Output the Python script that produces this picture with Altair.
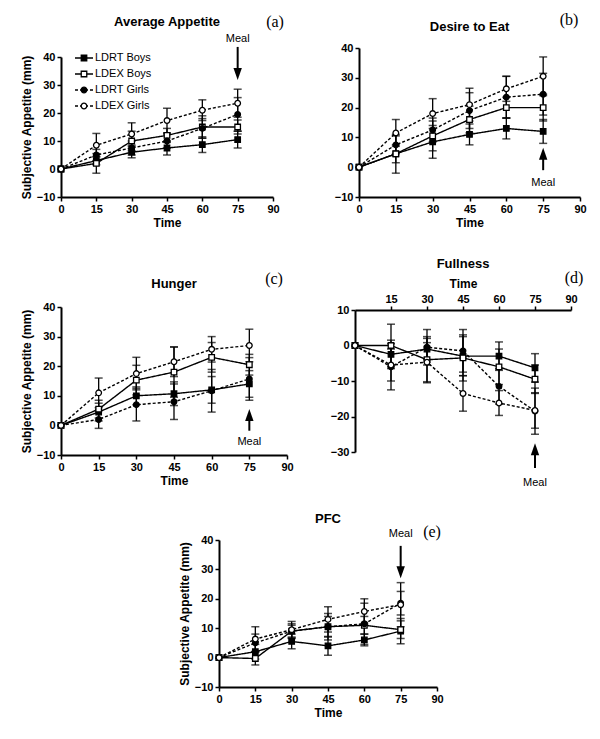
import altair as alt
import pandas as pd

SERIES = ["LDRT Boys", "LDEX Boys", "LDRT Girls", "LDEX Girls"]
TIMES = [0, 15, 30, 45, 60, 75]
X_TICKS = [0, 15, 30, 45, 60, 75, 90]

# (a) Average Appetite
avg_mean = {
    "LDRT Boys": [0, 3, 6, 7.5, 8.7, 10.5],
    "LDEX Boys": [0, 2, 10, 12, 15, 15],
    "LDRT Girls": [0, 5, 7.5, 10, 14.5, 19.5],
    "LDEX Girls": [0, 8.5, 12.5, 17.3, 21, 23.5],
}
avg_err = {
    "LDRT Boys": [0, 1.5, 2, 2.5, 2.8, 3],
    "LDEX Boys": [0, 3.5, 3.5, 2.5, 4, 2.5],
    "LDRT Girls": [0, 2, 2.5, 2.5, 3.5, 6],
    "LDEX Girls": [0, 4.2, 4, 4.4, 3.7, 5],
}
# (b) Desire to Eat
desire_mean = {
    "LDRT Boys": [0, 4.5, 8.5, 11, 13, 12],
    "LDEX Boys": [0, 4.5, 10.5, 16, 20, 20],
    "LDRT Girls": [0, 7.5, 12.5, 19, 23.5, 24.5],
    "LDEX Girls": [0, 11.5, 18, 21, 26.3, 30.5],
}
desire_err = {
    "LDRT Boys": [0, 3, 5.5, 3.5, 3.5, 4],
    "LDEX Boys": [0, 6.5, 5, 4.5, 3.5, 4.5],
    "LDRT Girls": [0, 3, 4, 6, 7, 7],
    "LDEX Girls": [0, 4.5, 5, 5.5, 4.2, 6.5],
}
# (c) Hunger
hunger_mean = {
    "LDRT Boys": [0, 4.5, 10, 10.7, 12, 14],
    "LDEX Boys": [0, 5.5, 15.3, 18, 23, 20.5],
    "LDRT Girls": [0, 2, 7, 8, 11.7, 15.7],
    "LDEX Girls": [0, 11, 17.5, 21.5, 25.7, 27],
}
hunger_err = {
    "LDRT Boys": [0, 3, 3, 4, 4.5, 4.5],
    "LDEX Boys": [0, 3, 5, 8.5, 5, 3.5],
    "LDRT Girls": [0, 3, 5.5, 6, 7.2, 7.2],
    "LDEX Girls": [0, 5, 5.5, 5, 4.3, 5.5],
}
# (d) Fullness
full_mean = {
    "LDRT Boys": [0, -2.5, -1, -3, -3, -6.3],
    "LDEX Boys": [0, 0, -4, -3.5, -6, -9.5],
    "LDRT Girls": [0, -6, -0.5, -1.5, -11.5, -18.5],
    "LDEX Girls": [0, -5.5, -4.7, -13.5, -16.2, -18.3],
}
full_err = {
    "LDRT Boys": [0, 4, 3, 5.5, 4, 4],
    "LDEX Boys": [0, 6, 6.5, 6.5, 5, 4],
    "LDRT Girls": [0, 6.5, 5, 6, 5, 6.5],
    "LDEX Girls": [0, 4.5, 5.5, 5, 3.5, 5],
}
# (e) PFC
pfc_mean = {
    "LDRT Boys": [0, 2, 5.5, 4, 6, 9],
    "LDEX Boys": [0, -0.3, 9, 10.5, 11, 9.5],
    "LDRT Girls": [0, 5, 9, 10.5, 11.5, 18.5],
    "LDEX Girls": [0, 6.3, 9.5, 13, 15.7, 18],
}
pfc_err = {
    "LDRT Boys": [0, 2.5, 2.5, 3.2, 2, 4.3],
    "LDEX Boys": [0, 2.2, 2, 3.5, 3, 3],
    "LDRT Girls": [0, 3, 2.5, 4.5, 7, 4],
    "LDEX Girls": [0, 4.2, 2.8, 4.3, 4.3, 7.5],
}

FONT = "Liberation Sans"
SERIF = "Liberation Serif"
DASH = [[1, 0], [1, 0], [3, 2], [3, 2]]
SHAPES = ["square", "square", "circle", "circle"]
FILLS = ["black", "white", "black", "white"]
SIZES = [30, 32, 20, 34]
ARROW_DOWN = "M-0.7,-1L0.7,-1L0,1Z"
ARROW_UP = "M-0.7,1L0.7,1L0,-1Z"


def frame(means, errs):
    rows = []
    for s in SERIES:
        for t, m, e in zip(TIMES, means[s], errs[s]):
            rows.append(dict(series=s, t=t, m=m, lo=m - e, hi=m + e, e=e))
    return pd.DataFrame(rows)


def panel(means, errs, title, letter, ydom, ytitle, w, h, meal, title_dy,
          letter_xy, xtop=False, legend=False, yoff=0):
    df = frame(means, errs)
    ppu = h / (ydom[1] - ydom[0])
    H = h + yoff
    yvals = list(range(ydom[0], ydom[1] + 1, 10))
    if xtop:
        xaxis = alt.Axis(values=X_TICKS[1:], orient="top", title="Time", offset=-yoff)
    else:
        xaxis = alt.Axis(values=X_TICKS, orient="bottom", title="Time")
    if ytitle:
        yaxis = alt.Axis(values=yvals, title=ytitle)
    else:
        yaxis = alt.Axis(values=yvals, title=None)
    xs = alt.Scale(domain=[0, 90], nice=False, zero=False)
    if yoff:
        ys = alt.Scale(domain=ydom, nice=False, zero=False, range=[H, yoff])
    else:
        ys = alt.Scale(domain=ydom, nice=False, zero=False)

    def X(f):
        return alt.X(f, type="quantitative", scale=xs, axis=xaxis)

    def Y(f):
        return alt.Y(f, type="quantitative", scale=ys, axis=yaxis)

    dash = alt.StrokeDash("series:N", scale=alt.Scale(domain=SERIES, range=DASH), legend=None)
    shape = alt.Shape("series:N", scale=alt.Scale(domain=SERIES, range=SHAPES), legend=None)
    fill = alt.Fill("series:N", scale=alt.Scale(domain=SERIES, range=FILLS), legend=None)
    size = alt.Size("series:N", scale=alt.Scale(domain=SERIES, range=SIZES), legend=None)

    base = alt.Chart(df)
    lines = base.mark_line(color="black", strokeWidth=1.4).encode(
        x=X("t"), y=Y("m"), strokeDash=dash, detail="series:N", order="t:Q")
    eb = alt.Chart(df[df.e > 0])
    rules = eb.mark_rule(color="black", strokeWidth=1.3).encode(
        x=X("t"), y=Y("lo"), y2="hi:Q")
    cap_lo = eb.mark_tick(color="black", thickness=1.5, size=8, orient="horizontal").encode(
        x=X("t"), y=Y("lo"))
    cap_hi = eb.mark_tick(color="black", thickness=1.5, size=8, orient="horizontal").encode(
        x=X("t"), y=Y("hi"))
    points = base.mark_point(filled=True, stroke="black", strokeWidth=1.3, opacity=1).encode(
        x=X("t"), y=Y("m"), shape=shape, fill=fill, size=size)

    # Meal arrow
    start, tip, text_y = meal
    down = tip < start
    head_c = tip + 6 / ppu if down else tip - 6 / ppu
    mdf = pd.DataFrame({"t": [75], "y0": [start], "y1": [head_c], "yh": [head_c],
                        "yt": [text_y], "lab": ["Meal"]})
    mb = alt.Chart(mdf)
    arrow_line = mb.mark_rule(color="black", strokeWidth=2).encode(
        x=X("t"), y=Y("y0"), y2="y1:Q")
    arrow_head = mb.mark_point(filled=True, color="black", opacity=1, size=144,
                               shape=ARROW_DOWN if down else ARROW_UP).encode(
        x=X("t"), y=Y("yh"))
    meal_txt = mb.mark_text(font=FONT, fontSize=11, color="black", baseline="middle").encode(
        x=X("t"), y=Y("yt"), text="lab:N")

    one = alt.Chart(pd.DataFrame({"lab": [title], "let": [letter]}))
    title_txt = one.mark_text(font=FONT, fontSize=13, fontWeight="bold", color="black",
                              baseline="middle", align="center").encode(
        x=alt.value(w / 2), y=alt.value(title_dy + yoff), text="lab:N")
    letter_txt = one.mark_text(font=SERIF, fontSize=16, color="black",
                               baseline="middle", align="center").encode(
        x=alt.value(letter_xy[0]), y=alt.value(letter_xy[1] + yoff), text="let:N")

    layers = [lines, rules, cap_lo, cap_hi, points, arrow_line, arrow_head,
              meal_txt, title_txt, letter_txt]

    if legend:
        ldf = pd.DataFrame({"series": SERIES, "idx": list(range(len(SERIES)))})
        ldf["py"] = 1 + yoff + 16 * ldf["idx"]
        ldf["x0"] = 14
        ldf["x1"] = 32
        ldf["xm"] = 23
        ldf["xl"] = 34
        lb = alt.Chart(ldf)
        PX = lambda f: alt.X(f, type="quantitative", scale=None, axis=None)
        PY = lambda f: alt.Y(f, type="quantitative", scale=None, axis=None)
        leg_line = lb.mark_rule(color="black", strokeWidth=1.4).encode(
            x=PX("x0"), x2="x1:Q", y=PY("py"), strokeDash=dash)
        leg_pt = lb.mark_point(filled=True, stroke="black", strokeWidth=1.3, opacity=1).encode(
            x=PX("xm"), y=PY("py"), shape=shape, fill=fill, size=size)
        leg_txt = lb.mark_text(font=FONT, fontSize=11, color="black", align="left",
                               baseline="middle").encode(
            x=PX("xl"), y=PY("py"), text="series:N")
        layers += [leg_line, leg_pt, leg_txt]

    return alt.layer(*layers).properties(width=w, height=H)


pa = panel(avg_mean, avg_err, "Average Appetite", "(a)", [-10, 40],
           "Subjective Appetite (mm)", 212, 140, (43.6, 31.8, 46.5), -35, (214, -35),
           legend=True, yoff=9)
pb = panel(desire_mean, desire_err, "Desire to Eat", "(b)", [-10, 40],
           "", 221, 149, (-1, 6.5, -5.3), -21, (210, -28))
pc = panel(hunger_mean, hunger_err, "Hunger", "(c)", [-10, 40],
           "Subjective Appetite (mm)", 226, 148, (-1.8, 5.5, -5.7), -23, (213, -28))
pd_ = panel(full_mean, full_err, "Fullness", "(d)", [-30, 10],
            "", 216, 142, (-34.5, -27.5, -38.7), -46, (219, -32), xtop=True, yoff=3)
pe = panel(pfc_mean, pfc_err, "PFC", "(e)", [-10, 40],
           "Subjective Appetite (mm)", 218, 147, (38, 27, 42), -21, (213, -8))

spacer = alt.Chart(pd.DataFrame({"v": [0]})).mark_point(opacity=0).encode(
    x=alt.value(0), y=alt.value(0)).properties(width=117, height=20)

row1 = alt.hconcat(pa, pb, spacing=50)
row2 = alt.hconcat(pc, pd_, spacing=36)
row3 = alt.hconcat(spacer, pe, spacing=0)
lower = alt.vconcat(row2, row3, spacing=25)

chart = alt.vconcat(row1, lower, spacing=30).properties(
    padding={"left": 12, "top": 4, "right": 2, "bottom": 2}
).configure_view(stroke=None).configure_axis(
    domainColor="black", domainWidth=2, tickColor="black", tickWidth=1.5, tickSize=4,
    labelFont=FONT, labelFontSize=11, labelFontWeight="bold", labelColor="black",
    titleFont=FONT, titleFontSize=12, titleFontWeight="bold", titleColor="black",
    grid=False, labelPadding=2, titlePadding=3, labelFlush=False, labelOverlap=False
)

chart.save("out.html", embed_options={"renderer": "svg", "actions": False})
